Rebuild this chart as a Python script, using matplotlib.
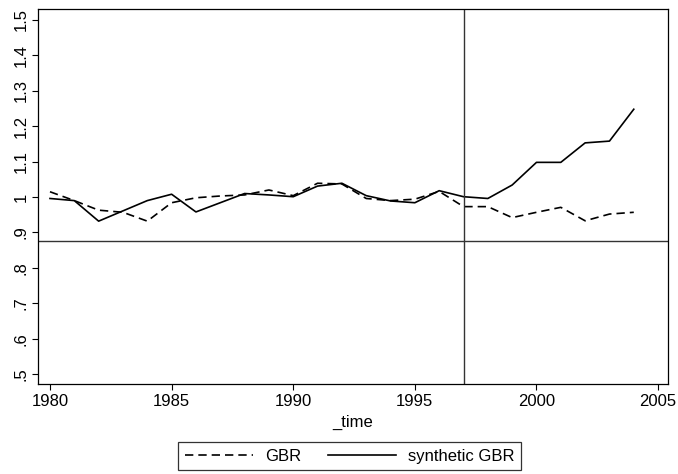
import numpy as np
import matplotlib
matplotlib.use('Agg')
import matplotlib.pyplot as plt

plt.rcParams['font.family'] = ['Liberation Sans', 'DejaVu Sans']

years = list(range(1980, 2005))
gbr = [1.015, 0.990, 0.963, 0.957, 0.932, 0.984, 0.998, 1.003, 1.006, 1.020,
       1.004, 1.039, 1.037, 0.996, 0.990, 0.994, 1.016, 0.973, 0.973, 0.942,
       0.957, 0.971, 0.933, 0.952, 0.957]
synth_gbr = [0.996, 0.990, 0.932, 0.961, 0.990, 1.008, 0.958, 0.984, 1.010, 1.006,
             1.001, 1.031, 1.039, 1.004, 0.989, 0.984, 1.018, 1.001, 0.996, 1.034,
             1.098, 1.098, 1.153, 1.158, 1.248]
xticks = [1980, 1985, 1990, 1995, 2000, 2005]
yticks = [0.5, 0.6, 0.7, 0.8, 0.9, 1.0, 1.1, 1.2, 1.3, 1.4, 1.5]
ytick_labels = ['.5', '.6', '.7', '.8', '.9', '1', '1.1', '1.2', '1.3', '1.4', '1.5']
treat_year = 1997
hline = 0.875

fs = 12

fig = plt.figure(figsize=(6.78, 4.74), dpi=100)
ax = fig.add_axes([0.0565, 0.189, 0.9285, 0.792])

l1, = ax.plot(years, gbr, color='black', linestyle=(0, (5, 3)), linewidth=1.2, label='GBR')
l2, = ax.plot(years, synth_gbr, color='black', linestyle='-', linewidth=1.2, label='synthetic GBR')
ax.axvline(treat_year, color='#333333', linewidth=1.0)
ax.axhline(hline, color='#333333', linewidth=1.0)

ax.set_xlim(1979.52, 2005.4)
ax.set_ylim(0.471, 1.531)
ax.set_xticks(xticks)
ax.set_yticks(yticks)
ax.set_yticklabels(ytick_labels, rotation=90, va='center')
ax.tick_params(direction='out', length=4, width=0.8, labelsize=fs, colors='black')
ax.tick_params(axis='y', pad=3)
ax.tick_params(axis='x', pad=3)
for s in ax.spines.values():
    s.set_linewidth(0.9)
ax.set_xlabel('_time', fontsize=fs, labelpad=4)

leg = fig.legend(handles=[l1, l2], loc='center', bbox_to_anchor=(0.5155, 0.0375), ncol=2,
                 fontsize=fs, frameon=True, fancybox=False, handlelength=4.1,
                 handletextpad=0.7, columnspacing=1.6, borderpad=0.4)
leg.get_frame().set_edgecolor('black')
leg.get_frame().set_linewidth(0.9)

fig.savefig('out.png', dpi=100)
